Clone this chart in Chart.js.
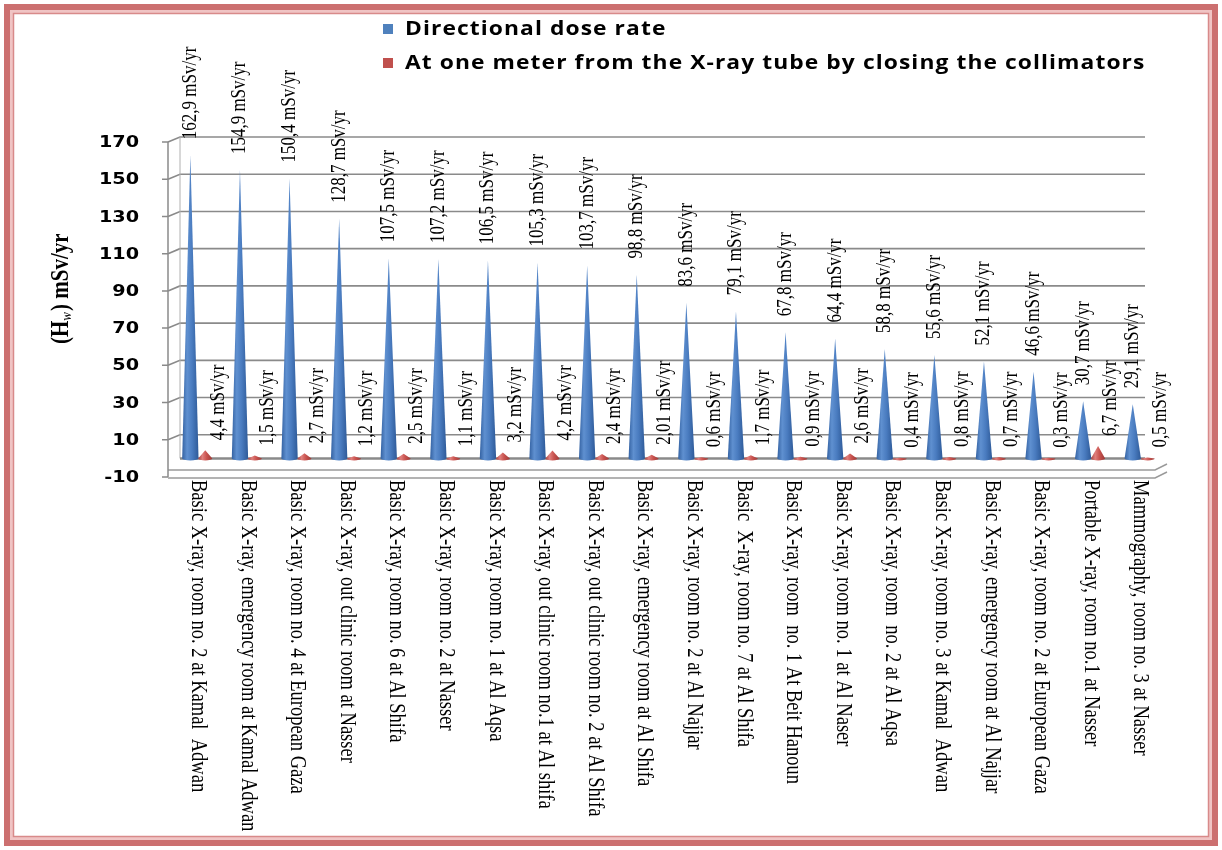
<!DOCTYPE html>
<html>
<head>
<meta charset="utf-8">
<script src="https://cdn.jsdelivr.net/npm/chart.js@4/dist/chart.umd.min.js"></script>
<style>
  body { margin: 0; background: #fff; }
  #wrap { width: 1222px; height: 850px; }
</style>
</head>
<body>
<div id="wrap"><canvas id="doseChart" width="1222" height="850"></canvas></div>
<script>
// data
const categories = [
    'Basic X-ray, room no. 2 at Kamal  Adwan',
    'Basic X-ray, emergency room at Kamal Adwan',
    'Basic X-ray, room no. 4 at European Gaza',
    'Basic X-ray, out clinic room at Nasser',
    'Basic X-ray, room no. 6 at Al Shifa',
    'Basic X-ray, room no. 2 at Nasser',
    'Basic X-ray, room no. 1 at Al Aqsa',
    'Basic X-ray, out clinic room no.1 at Al shifa',
    'Basic X-ray, out clinic room no. 2 at Al Shifa',
    'Basic X-ray, emergency room at Al Shifa',
    'Basic X-ray, room no. 2 at Al Najjar',
    'Basic  X-ray, room no. 7 at Al Shifa',
    'Basic X-ray, room  no. 1 At Beit Hanoun',
    'Basic X-ray, room no. 1 at Al Naser',
    'Basic X-ray, room  no. 2 at Al Aqsa',
    'Basic X-ray, room no. 3 at Kamal  Adwan',
    'Basic X-ray, emergency room at Al Najjar',
    'Basic X-ray, room no. 2 at European Gaza',
    'Portable X-ray, room no.1 at Nasser',
    'Mammography, room no. 3 at Nasser'
];
const directionalDose = [162.9, 154.9, 150.4, 128.7, 107.5, 107.2, 106.5, 105.3, 103.7, 98.8,
    83.6, 79.1, 67.8, 64.4, 58.8, 55.6, 52.1, 46.6, 30.7, 29.1];
const oneMeterDose = [4.4, 1.5, 2.7, 1.2, 2.5, 1.1, 3.2, 4.2, 2.4, 2.01,
    0.6, 1.7, 0.9, 2.6, 0.4, 0.8, 0.7, 0.3, 6.7, 0.5];
const seriesNames = ['Directional dose rate', 'At one meter from the X-ray tube by closing the collimators'];
const yTicks = [-10, 10, 30, 50, 70, 90, 110, 130, 150, 170];
const unit = 'mSv/yr';

const STRETCH = 1.2; // the original picture is stretched sideways
const blueShades = ['#3462a2', '#5f90d0', '#4a7cc0', '#2e5a98'];
const redShades = ['#a8403d', '#e0807d', '#c9534f', '#9c3a37'];

function fmt(v) {
    return String(v).replace('.', ',') + ' ' + unit;
}

// writes text rotated, with the sideways stretch of the original
function rotText(ctx, text, x, y, angle, font, align, spacing) {
    ctx.save();
    ctx.translate(x, y);
    ctx.scale(STRETCH, 1);
    ctx.rotate(angle);
    ctx.font = font;
    if (spacing) ctx.letterSpacing = spacing;
    ctx.textAlign = align || 'left';
    ctx.textBaseline = 'middle';
    ctx.fillText(text, 0, 0);
    ctx.restore();
}

function cone(ctx, x, tipY, baseY, w, shades) {
    const g = ctx.createLinearGradient(x - w / 2, 0, x + w / 2, 0);
    g.addColorStop(0, shades[0]);
    g.addColorStop(0.3, shades[1]);
    g.addColorStop(0.6, shades[2]);
    g.addColorStop(1, shades[3]);
    ctx.fillStyle = g;
    ctx.beginPath();
    ctx.moveTo(x - w / 2, baseY);
    ctx.lineTo(x, tipY);
    ctx.lineTo(x + w / 2, baseY);
    ctx.ellipse(x, baseY, w / 2, 2, 0, 0, Math.PI);
    ctx.closePath();
    ctx.fill();
}

const frame3d = {
    id: 'frame3d',
    beforeDraw(chart) {
        const ctx = chart.ctx;
        // pink double frame
        ctx.save();
        ctx.fillStyle = '#fff';
        ctx.fillRect(0, 0, chart.width, chart.height);
        ctx.strokeStyle = '#cc7070';
        ctx.lineWidth = 6;
        ctx.strokeRect(7, 7, chart.width - 14, chart.height - 14);
        ctx.strokeStyle = '#f0c4c4';
        ctx.lineWidth = 3;
        ctx.strokeRect(11.5, 11.5, chart.width - 23, chart.height - 23);
        ctx.strokeStyle = '#d88a8a';
        ctx.lineWidth = 1.5;
        ctx.strokeRect(13.5, 13.5, chart.width - 27, chart.height - 27);
        ctx.restore();
    },
    beforeDatasetsDraw(chart) {
        const ctx = chart.ctx;
        const y = chart.scales.y;
        const area = chart.chartArea;
        const axisX = area.left - 5;
        const backX = axisX + 12;
        const backRight = area.right - 20;
        ctx.save();
        ctx.strokeStyle = '#8a8a8a';
        ctx.lineWidth = 1.6;
        // back wall grid with side wall slant
        yTicks.forEach(t => {
            if (t <= 0) return;
            const py = y.getPixelForValue(t);
            ctx.beginPath();
            ctx.moveTo(axisX, py);
            ctx.lineTo(backX, py - 5);
            ctx.lineTo(backRight, py - 5);
            ctx.stroke();
        });
        // left wall back edge
        ctx.lineWidth = 1;
        ctx.strokeStyle = '#b0b0b0';
        ctx.beginPath();
        ctx.moveTo(backX, y.getPixelForValue(170) - 5);
        ctx.lineTo(backX, y.getPixelForValue(0));
        ctx.stroke();
        // floor
        const y0 = y.getPixelForValue(0);
        const yb = y.getPixelForValue(-10);
        ctx.strokeStyle = '#8a8a8a';
        ctx.lineWidth = 2.5;
        ctx.beginPath();
        ctx.moveTo(backX, y0);
        ctx.lineTo(backRight, y0);
        ctx.stroke();
        ctx.lineWidth = 1.5;
        ctx.strokeStyle = '#9a9a9a';
        ctx.beginPath();
        ctx.moveTo(axisX, yb - 7);
        ctx.lineTo(backRight + 10, yb - 7);
        ctx.lineTo(backRight + 22, yb - 13);
        ctx.moveTo(axisX, yb + 1);
        ctx.lineTo(backRight + 10, yb + 1);
        ctx.lineTo(backRight + 22, yb - 5);
        ctx.stroke();
        // value axis
        ctx.strokeStyle = '#8a8a8a';
        ctx.lineWidth = 1.5;
        ctx.beginPath();
        ctx.moveTo(axisX, y.getPixelForValue(170));
        ctx.lineTo(axisX, yb);
        yTicks.forEach(t => {
            const py = y.getPixelForValue(t);
            ctx.moveTo(axisX - 6, py);
            ctx.lineTo(axisX, py);
        });
        ctx.stroke();
        ctx.fillStyle = '#000';
        yTicks.forEach(t => {
            rotText(ctx, String(t), (axisX - 29) , y.getPixelForValue(t) + 1, 0, 'bold 16px "DejaVu Sans"', 'right');
        });
        ctx.restore();
    },
    afterDatasetsDraw(chart) {
        const ctx = chart.ctx;
        const blue = chart.getDatasetMeta(0).data;
        const red = chart.getDatasetMeta(1).data;
        ctx.save();
        blue.forEach(b => cone(ctx, b.x, b.y, b.base, b.width * 1.1, blueShades));
        red.forEach(b => cone(ctx, b.x, b.y, b.base, b.width * 0.95, redShades));

        ctx.fillStyle = '#000';
        const serif = '17px "Liberation Serif", "Times New Roman", serif';
        blue.forEach((b, i) => rotText(ctx, fmt(directionalDose[i]), b.x, b.y - 16, -Math.PI / 2, serif));
        red.forEach((b, i) => rotText(ctx, fmt(oneMeterDose[i]), b.x + 13, b.y - 10, -Math.PI / 2, serif));

        // category names, reading downwards
        const xs = chart.scales.x;
        const catFont = '18.5px "Liberation Serif", "Times New Roman", serif';
        categories.forEach((c, i) => {
            rotText(ctx, c, xs.getPixelForValue(i), chart.scales.y.getPixelForValue(-10) + 3, Math.PI / 2, catFont);
        });

        // value axis title (H_w) mSv/yr
        ctx.save();
        ctx.translate(61, 344);
        ctx.scale(STRETCH, 1);
        ctx.rotate(-Math.PI / 2);
        ctx.textBaseline = 'middle';
        ctx.textAlign = 'left';
        ctx.font = 'bold 21px "Liberation Serif", serif';
        let px = 0;
        ctx.fillText('(H', px, 0);
        px += ctx.measureText('(H').width;
        ctx.font = 'italic 13px "Liberation Serif", serif';
        ctx.fillText('w', px, 5);
        px += ctx.measureText('w').width + 1;
        ctx.font = 'bold 21px "Liberation Serif", serif';
        ctx.fillText(') ' + unit, px, 0);
        ctx.restore();

        // legend
        const legendRows = [29, 63];
        chart.data.datasets.forEach((ds, i) => {
            ctx.fillStyle = ds.legendColor;
            ctx.fillRect(383, legendRows[i] - 5, 10, 10);
            ctx.fillStyle = '#000';
            rotText(ctx, ds.label, 405, legendRows[i] + 1, 0, 'bold 19px "Open Sans"', 'left', '0.9px');
        });
        ctx.restore();
    }
};

new Chart(document.getElementById('doseChart'), {
    type: 'bar',
    data: {
        labels: categories,
        datasets: [{
            label: seriesNames[0],
            data: directionalDose,
            backgroundColor: 'rgba(0,0,0,0)',
            legendColor: '#4f81bd'
        }, {
            label: seriesNames[1],
            data: oneMeterDose,
            backgroundColor: 'rgba(0,0,0,0)',
            legendColor: '#c0504d'
        }]
    },
    options: {
        responsive: false,
        animation: false,
        devicePixelRatio: 1,
        categoryPercentage: 0.6,
        barPercentage: 1.0,
        layout: {
            padding: { left: 173, right: 57, top: 142, bottom: 373 }
        },
        plugins: {
            legend: { display: false },
            tooltip: { enabled: false }
        },
        scales: {
            x: { display: false },
            y: {
                display: false,
                min: -10,
                max: 170,
                ticks: { stepSize: 20 }
            }
        }
    },
    plugins: [frame3d]
});
</script>
</body>
</html>
